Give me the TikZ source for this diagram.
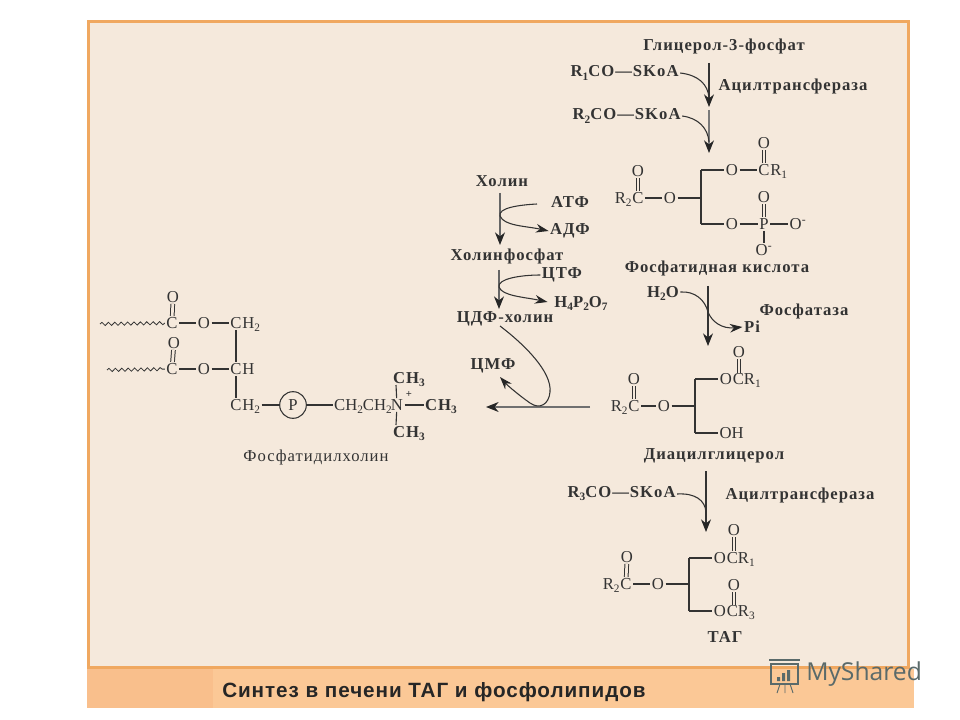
\documentclass[tikz,border=0pt]{standalone}
\usepackage{fontspec}
\setmainfont{Liberation Serif}
\newfontfamily\footfont[LetterSpace=4.5]{Liberation Sans}
\newfontfamily\logofont{Open Sans}
\newfontfamily\labfont[LetterSpace=6.0]{Liberation Serif}
\usetikzlibrary{arrows.meta,decorations.pathmorphing}
\definecolor{panelfill}{HTML}{F5E9DC}
\definecolor{panelline}{HTML}{F0A860}
\definecolor{footfill}{HTML}{FBC896}
\definecolor{footleft}{HTML}{F9BF8C}
\definecolor{ink}{HTML}{333333}
\definecolor{logoink}{HTML}{5A6A6A}
\newcommand{\subs}[1]{\raisebox{-0.4ex}{\fontsize{8.5}{8.5}\selectfont #1}}
\tikzset{
 atom/.style={inner sep=1pt,text=ink,font=\fontsize{12.5}{13}\selectfont,text height=8pt,text depth=0pt},
 tail/.style={atom,anchor=west,xshift=-1.8pt},
 head/.style={atom,anchor=east,xshift=1.8pt},
 lab/.style={inner sep=1pt,text=ink,font=\labfont\fontsize{12.5}{13}\selectfont\bfseries},
 labc/.style={inner sep=1pt,text=ink,font=\labfont\fontsize{12.5}{13}\selectfont\bfseries,text height=8pt,text depth=0pt},
 bond/.style={draw=ink,line width=0.85pt},
 dbl/.style={draw=ink,line width=0.75pt,double=panelfill,double distance=2pt},
 wave/.style={draw=ink,line width=0.6pt,decorate,decoration={snake,amplitude=1.2pt,segment length=4.8pt}},
 flow/.style={draw=ink,line width=0.8pt,-{Stealth[length=9.5pt,width=7.5pt,color=black!85]}},
 side/.style={draw=ink,line width=0.8pt},
 sidearrow/.style={draw=ink,line width=0.8pt,-{Stealth[length=9.5pt,width=6.5pt,color=black!85]}},
}
\begin{document}
\begin{tikzpicture}[x=0.75pt,y=-0.75pt]
\useasboundingbox (0,0) rectangle (960,720);
\fill[white] (0,0) rectangle (960,720);
% panel and footer
\node[draw=panelline,line width=2.2pt,fill=panelfill,minimum width=615pt,minimum height=485pt,inner sep=0pt] (panel) at (498.5,344.5) {};
\fill[footfill] (87,669) rectangle (914,708);
\fill[footleft] (87,669) rectangle (213,708);
\node[inner sep=0pt,anchor=west,text=black!85,font=\footfont\bfseries\fontsize{15.5}{17}\selectfont] (foot) at (222,692.5) {Синтез в печени ТАГ и фосфолипидов};
% logo
\node[inner sep=0pt,anchor=west,text=logoink,font=\logofont\fontsize{18.5}{20}\selectfont] (logo) at (806,674) {MyShared};
\draw[logoink,line width=0.8pt] (771,664) rectangle (798,684);
\draw[logoink,line width=1pt] (769,660) -- (800,660);
\fill[logoink] (777,677) rectangle (780,681) (782,673) rectangle (785,681) (787,670) rectangle (790,681);
\draw[logoink,line width=0.7pt] (780,684) -- (777,693) (785,684) -- (785,693) (790,684) -- (793,693);
% top pathway
\node[lab] (gp) at (724,46.5) {Глицерол-3-фосфат};
\node[lab,anchor=west] (r1s) at (569,73) {R\subs{1}CO—SKoA};
\node[lab,anchor=west] (acyl1) at (717,86) {Ацилтрансфераза};
\node[lab,anchor=west] (r2s) at (571,116) {R\subs{2}CO—SKoA};
\coordinate (a1s) at (709,63); \coordinate (a1e) at (709,107);
\coordinate (a2s) at (709,110); \coordinate (a2e) at (709,153);
\coordinate (j1) at (709,98); \coordinate (j2) at (709,142);
\draw[flow] (a1s) -- (a1e);
\draw[flow,draw=ink!65] (a2s) -- (a2e);
\draw[side] (r1s.east) .. controls (698,75) and (708,84) .. (j1);
\draw[side] (r2s.east) .. controls (698,118) and (708,128) .. (j2);
% phosphatidic acid
\node[atom] (pC) at (638,198) {C};
\node[head] (pR) at (pC.west) {R\subs{2}};
\node[atom] (pOt) at (638,171) {O};
\node[atom] (pO) at (670,198) {O};
\coordinate (pb) at (701,198); \coordinate (pbt) at (701,170); \coordinate (pbb) at (701,224);
\node[atom] (pO1) at (732,170) {O};
\node[atom] (pC1) at (764,170) {C};
\node[tail] (pR1) at (pC1.east) {R\subs{1}};
\node[atom] (pO1t) at (764,143) {O};
\node[atom] (pO2) at (732,224) {O};
\node[atom] (pP) at (764,224) {P};
\node[atom] (pOm) at (798,224) {O\textsuperscript{-}};
\node[atom] (pPt) at (764,197) {O};
\node[atom] (pPb) at (764,250) {O\textsuperscript{-}};
\draw[dbl] (pC) -- (pOt);
\draw[bond] (pC) -- (pO);
\draw[bond] (pO) -- (pb);
\draw[bond] (pbt) -- (pbb);
\draw[bond] (pbt) -- (pO1);
\draw[bond] (pbb) -- (pO2);
\draw[bond] (pO1) -- (pC1);
\draw[dbl] (pC1) -- (pO1t);
\draw[bond] (pO2) -- (pP);
\draw[bond] (pP) -- (pOm);
\draw[dbl] (pP) -- (pPt);
\draw[bond] (pP) -- (pPb);
\node[lab] (pa) at (717,268) {Фосфатидная кислота};
% phosphatase
\node[labc] (h2o) at (663,292) {H\subs{2}O};
\coordinate (a3s) at (708,286); \coordinate (a3e) at (708,346); \coordinate (j3) at (708,312);
\node[labc] (pi) at (752,327) {Pi};
\node[lab] (fos) at (804,311) {Фосфатаза};
\draw[flow] (a3s) -- (a3e);
\draw[side] (h2o.east) .. controls (695,291) and (705,300) .. (j3);
\draw[sidearrow] (j3) .. controls (712,322) and (722,329) .. (pi.west);
% DAG
\node[atom] (dC) at (634,406) {C};
\node[head] (dR) at (dC.west) {R\subs{2}};
\node[atom] (dOt) at (634,379) {O};
\node[atom] (dO) at (664,406) {O};
\coordinate (db) at (695,406); \coordinate (dbt) at (695,379); \coordinate (dbb) at (695,433);
\node[atom] (dO1) at (726,379) {O};
\node[tail] (dCR) at (dO1.east) {CR\subs{1}};
\coordinate (dCt) at (739,373);
\node[atom] (dO1t) at (739,352) {O};
\node[atom,anchor=west] (dOH) at (718,433) {OH};
\draw[dbl] (dC) -- (dOt);
\draw[bond] (dC) -- (dO);
\draw[bond] (dO) -- (db);
\draw[bond] (dbt) -- (dbb);
\draw[bond] (dbt) -- (dO1);
\draw[bond] (dbb) -- (dOH);
\draw[dbl] (dCt) -- (dO1t);
\node[lab] (dag) at (714,456) {Диацилглицерол};
% third acyl
\node[lab,anchor=west] (r3s) at (566,494) {R\subs{3}CO—SKoA};
\node[lab,anchor=west] (acyl2) at (724,495) {Ацилтрансфераза};
\coordinate (a4s) at (706,471); \coordinate (a4e) at (706,532); \coordinate (j4) at (706,512);
\draw[flow] (a4s) -- (a4e);
\draw[side] (r3s.east) .. controls (695,493) and (705,500) .. (j4);
% TAG
\node[atom] (tC) at (626,584) {C};
\node[head] (tR) at (tC.west) {R\subs{2}};
\node[atom] (tOt) at (627,557) {O};
\node[atom] (tO) at (658,584) {O};
\coordinate (tb) at (689,584); \coordinate (tbt) at (689,558); \coordinate (tbb) at (689,611);
\node[atom] (tO1) at (720,558) {O};
\node[tail] (tCR1) at (tO1.east) {CR\subs{1}};
\coordinate (tC1) at (734,551);
\node[atom] (tO1t) at (734,530) {O};
\node[atom] (tO2) at (720,611) {O};
\node[tail] (tCR3) at (tO2.east) {CR\subs{3}};
\coordinate (tC2) at (734,605);
\node[atom] (tO2t) at (734,585) {O};
\draw[dbl] (tC) -- (tOt);
\draw[bond] (tC) -- (tO);
\draw[bond] (tO) -- (tb);
\draw[bond] (tbt) -- (tbb);
\draw[bond] (tbt) -- (tO1);
\draw[bond] (tbb) -- (tO2);
\draw[dbl] (tC1) -- (tO1t);
\draw[dbl] (tC2) -- (tO2t);
\node[labc] (tag) at (725,637) {ТАГ};
% choline branch
\node[lab] (chol) at (502,181) {Холин};
\coordinate (c1s) at (500,193); \coordinate (c1e) at (500,245);
\node[lab] (atp) at (570,202) {АТФ};
\node[lab] (adp) at (570,231) {АДФ};
\node[lab] (cholp) at (507,256) {Холинфосфат};
\coordinate (c2s) at (499,270); \coordinate (c2e) at (499,309);
\node[lab] (ctp) at (562,275) {ЦТФ};
\node[labc,inner xsep=5pt] (ppi) at (581,302) {H\subs{4}P\subs{2}O\subs{7}};
\node[lab] (cdp) at (505,319) {ЦДФ-холин};
\node[lab] (cmp) at (493,366) {ЦМФ};
\draw[flow,draw=ink!75] (c1s) -- (c1e);
\draw[flow,draw=ink!75] (c2s) -- (c2e);
\coordinate (atpe) at (537,204); \coordinate (j5) at (500,216);
\draw[sidearrow] (atpe) .. controls (518,205) and (498,208) .. (j5) .. controls (504,226) and (526,226) .. (adp.west);
\coordinate (j6) at (499,287);
\draw[sidearrow] (ctp.west) .. controls (520,275) and (497,279) .. (j6) .. controls (502,296) and (524,297) .. (ppi.west);
% PC formation arrow
\coordinate (hs) at (590,407); \coordinate (he) at (486,407);
\draw[flow,draw=ink!70] (hs) -- (he);
\coordinate (cds) at (500,326); \coordinate (cmt) at (500,377);
\draw[sidearrow] (cds) .. controls (525,345) and (552,372) .. (550,392) .. controls (549,404) and (540,410) .. (530,403) .. controls (520,396) and (508,386) .. (cmt);
% phosphatidylcholine
\node[atom] (aC) at (172,323) {C};
\node[atom] (aOt) at (173,297) {O};
\node[atom] (aO) at (204,323) {O};
\node[atom] (aCH) at (236,323) {C};
\node[tail] (aH) at (aCH.east) {H\subs{2}};
\coordinate (w1) at (100,324);
\node[atom] (bC) at (172,369) {C};
\node[atom] (bOt) at (174,343) {O};
\node[atom] (bO) at (204,369) {O};
\node[atom] (bCH) at (236,369) {C};
\node[tail] (bH) at (bCH.east) {H};
\coordinate (w2) at (107,370);
\node[atom] (cCH) at (236,405) {C};
\node[tail] (cH) at (cCH.east) {H\subs{2}};
\node[atom,draw=ink,line width=0.8pt,circle,minimum size=20pt] (pcirc) at (293,405) {P};
\node[head] (chain) at (391,405) {CH\subs{2}CH\subs{2}};
\node[atom] (nN) at (397,405) {N};
\node[inner sep=0pt,text=ink,font=\fontsize{8}{8}\selectfont\bfseries] (nplus) at (409,394) {+};
\node[labc] (m1) at (409,378) {CH\subs{3}};
\node[labc] (m2) at (441,405) {CH\subs{3}};
\node[labc] (m3) at (409,432) {CH\subs{3}};
\coordinate (m1b) at (396,385); \coordinate (m3t) at (396,425);
\draw[wave] (w1) -- (aC);
\draw[wave] (w2) -- (bC);
\draw[dbl] (aC) -- (aOt);
\draw[dbl] (bC) -- (bOt);
\draw[bond] (aC) -- (aO);
\draw[bond] (aO) -- (aCH);
\draw[bond] (bC) -- (bO);
\draw[bond] (bO) -- (bCH);
\draw[bond] (aCH) -- (bCH);
\draw[bond] (bCH) -- (cCH);
\draw[bond] (cH) -- (pcirc);
\draw[bond] (pcirc) -- (chain);
\draw[bond] (nN) -- (m2);
\draw[bond] (nN) -- (m1b);
\draw[bond] (nN) -- (m3t);
\node[inner sep=1pt,text=ink,font=\labfont\fontsize{12.5}{13}\selectfont] (pcname) at (316,457) {Фосфатидилхолин};
\end{tikzpicture}
\end{document}
